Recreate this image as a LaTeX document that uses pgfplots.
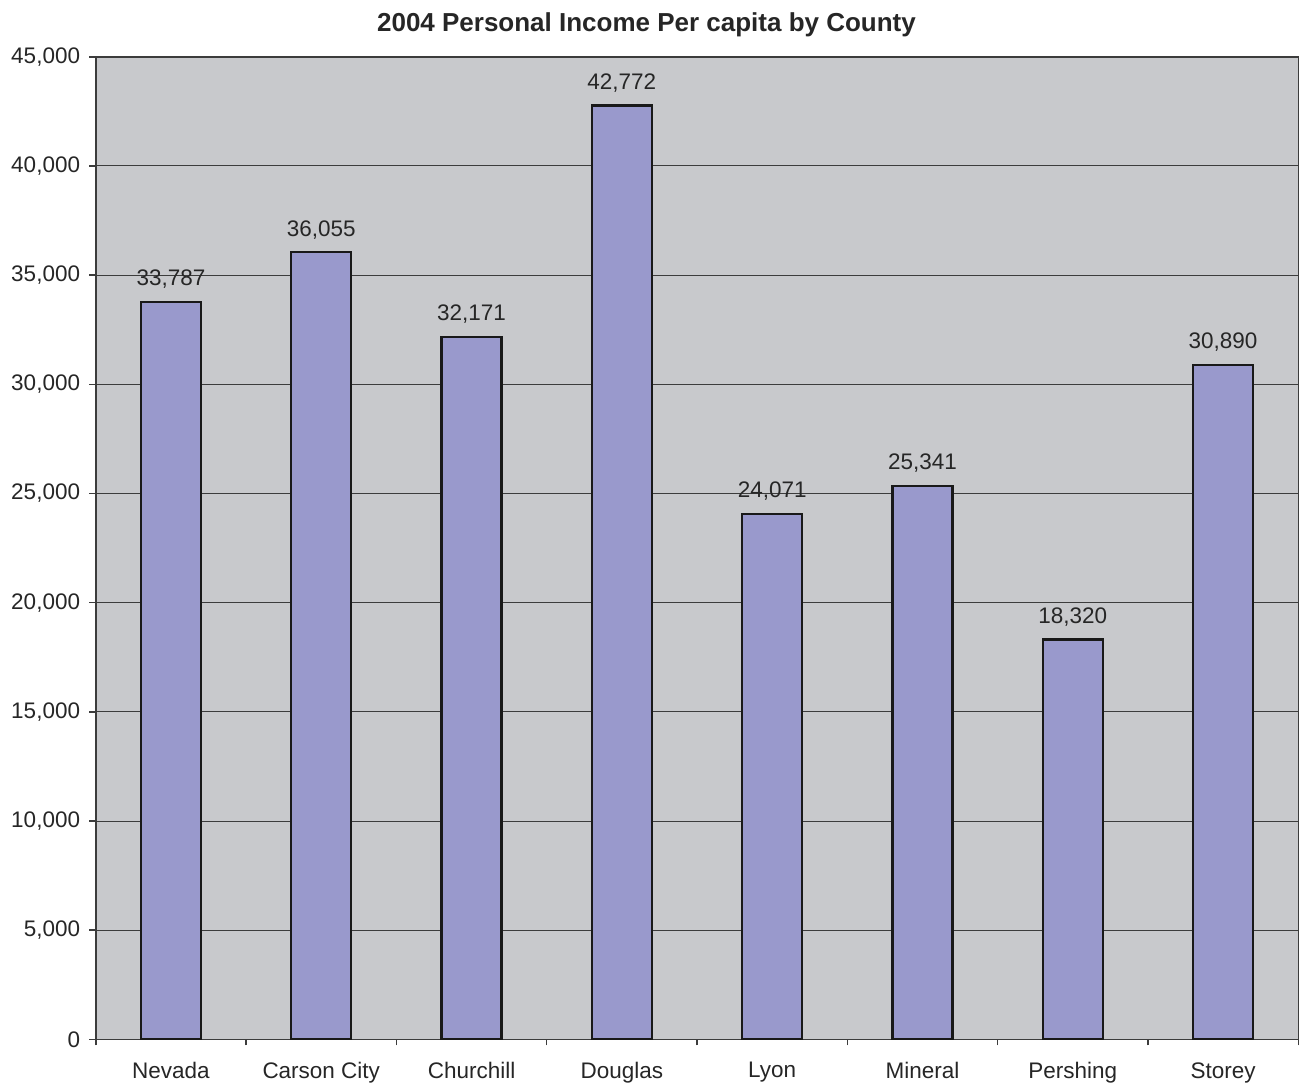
\documentclass[border=0pt]{standalone}
\usepackage{pgfplots}
\pgfplotsset{compat=1.18}
\usepackage{fontspec}
\setmainfont{Liberation Sans}
\definecolor{plotbg}{RGB}{200,201,204}
\definecolor{barfill}{RGB}{153,153,204}
\definecolor{gridc}{RGB}{60,60,60}
\begin{document}
\begin{tikzpicture}
\begin{axis}[
  scale only axis,
  width=481.2pt, height=393.2pt,
  xmin=-0.5, xmax=7.5,
  ymin=0, ymax=45000,
  axis background/.style={fill=plotbg},
  axis line style={draw=gridc, line width=0.6pt},
  xtick={0,1,2,3,4,5,6,7},
  xticklabels={Nevada,Carson City,Churchill,Douglas,Lyon,Mineral,Pershing,Storey},
  minor xtick={-0.5,0.5,1.5,2.5,3.5,4.5,5.5,6.5,7.5},
  major x tick style={draw=none},
  minor tick length=2.4pt,
  tick align=outside,
  major tick length=2.6pt,
  ytick={0,5000,10000,15000,20000,25000,30000,35000,40000,45000},
  ymajorgrids,
  grid style={gridc, line width=0.4pt},
  tick style={gridc, line width=0.6pt},
  xtick pos=bottom, ytick pos=left,
  scaled y ticks=false,
  /pgf/number format/fixed,
  /pgf/number format/1000 sep={,},
  /pgf/number format/assume math mode=true,
  ticklabel style={font=\fontsize{9}{10}\selectfont, text=black!85},
  yticklabel style={inner xsep=4.5pt, xshift=1pt},
  xticklabel style={inner ysep=0pt, yshift=-6.4pt},
  title={\textbf{2004 Personal Income Per capita by County}},
  title style={font=\fontsize{10.4}{12}\selectfont, at={(0.458,1)}, anchor=base, yshift=4.2pt, inner ysep=5pt, text=black!85},
  nodes near coords,
  nodes near coords style={font=\fontsize{9}{10}\selectfont, text=black!85, yshift=1.5pt},
  every axis plot/.append style={bar shift=0pt},
]
\addplot[ybar, bar width=24pt, fill=barfill, draw=black!90, line width=0.9pt] coordinates {
(0,33787) (1,36055) (2,32171) (3,42772) (4,24071) (5,25341) (6,18320) (7,30890)
};
\end{axis}
\end{tikzpicture}
\end{document}
